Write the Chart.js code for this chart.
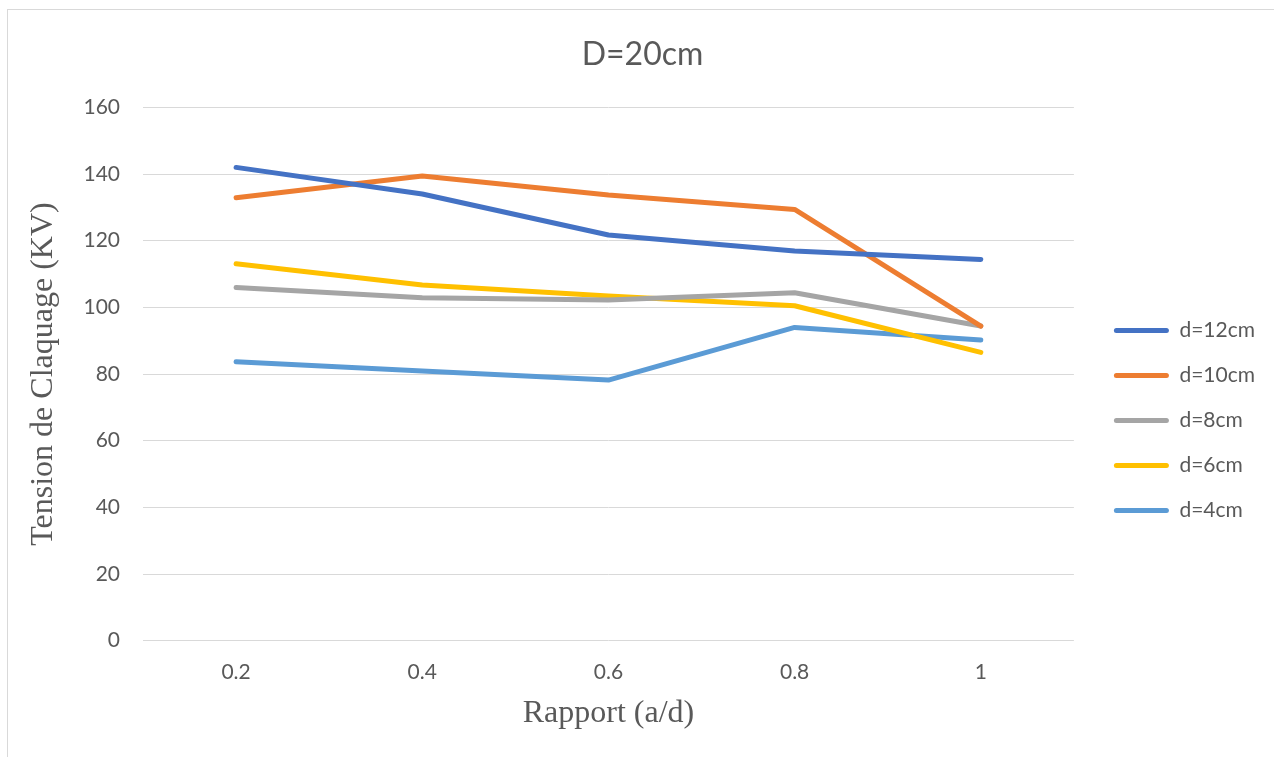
<!DOCTYPE html>
<html>
<head>
<meta charset="utf-8">
<script src="https://cdn.jsdelivr.net/npm/chart.js@4"></script>
<style>
  body { margin: 0; overflow: hidden; background: #fff; }
  #wrap { position: absolute; left: 0; top: 0; width: 1274px; height: 757px; }
  #frame { position: absolute; left: 7px; top: 9px; width: 1300px; height: 800px; border: 1px solid #d9d9d9; pointer-events: none; }
</style>
</head>
<body>
<div id="wrap"><canvas id="myChart" width="1274" height="757"></canvas></div>
<div id="frame"></div>
<script>
var labels = ['0.2', '0.4', '0.6', '0.8', '1'];
var d12 = [142, 134, 121.7, 116.9, 114.4];
var d10 = [132.9, 139.4, 133.7, 129.4, 94.4];
var d8 = [106, 102.9, 102.2, 104.4, 94.4];
var d6 = [113.1, 106.7, 103.4, 100.5, 86.5];
var d4 = [83.7, 80.9, 78.2, 94, 90.2];
var yTicks = [0, 20, 40, 60, 80, 100, 120, 140, 160];

var grey = '#595959';
var sans = 'Lato, "Liberation Sans", sans-serif';
var serif = '"Liberation Serif", "DejaVu Serif", serif';

function serie(label, data, color) {
  return {
    label: label,
    data: data,
    borderColor: color,
    backgroundColor: color,
    borderWidth: 5,
    borderCapStyle: 'round',
    borderJoinStyle: 'round',
    pointRadius: 0,
    tension: 0,
    fill: false
  };
}

// nudge legend and title a bit, like Excel does
var boxShift = {
  id: 'boxShift',
  afterLayout: function (chart) {
    var lg = chart.legend;
    lg.left += 16; lg.right += 16;
    lg.top += 42; lg.bottom += 42;
    var tb = chart.titleBlock;
    tb.left += 18; tb.right += 18;
  }
};

var ctx = document.getElementById('myChart').getContext('2d');
var myChart = new Chart(ctx, {
  type: 'line',
  data: {
    labels: labels,
    datasets: [
      serie('d=12cm', d12, '#4472C4'),
      serie('d=10cm', d10, '#ED7D31'),
      serie('d=8cm', d8, '#A5A5A5'),
      serie('d=6cm', d6, '#FFC000'),
      serie('d=4cm', d4, '#5B9BD5')
    ]
  },
  plugins: [boxShift],
  options: {
    responsive: false,
    animation: false,
    layout: { padding: { left: 0, right: 25, top: 0, bottom: 0 } },
    plugins: {
      title: {
        display: true,
        text: 'D=20cm',
        color: grey,
        font: { family: sans, size: 32, weight: 'normal' },
        padding: { top: 35, bottom: 34 }
      },
      legend: {
        position: 'right',
        labels: {
          color: grey,
          font: { family: sans, size: 21 },
          boxWidth: 55,
          boxHeight: 5,
          padding: 24,
          useBorderRadius: true,
          borderRadius: 2.5,
          generateLabels: function (chart) {
            return Chart.defaults.plugins.legend.labels.generateLabels(chart).map(function (l) {
              l.lineWidth = 0;
              l.fillStyle = l.strokeStyle;
              return l;
            });
          }
        }
      },
      tooltip: { enabled: false }
    },
    scales: {
      x: {
        offset: true,
        afterFit: function (axis) { axis.height = 116.3; },
        grid: { display: false, drawTicks: false },
        border: { display: false },
        ticks: { color: grey, font: { family: sans, size: 21 }, padding: 19 },
        title: {
          display: true,
          text: 'Rapport (a/d)',
          color: grey,
          font: { family: serif, size: 32 },
          padding: { top: 10, bottom: 24 }
        }
      },
      y: {
        min: 0,
        max: 160,
        afterBuildTicks: function (axis) {
          axis.ticks = yTicks.map(function (v) { return { value: v }; });
        },
        afterFit: function (axis) { axis.width = 143; },
        grid: { color: '#d9d9d9', lineWidth: 1, drawTicks: false },
        border: { display: false },
        ticks: { color: grey, font: { family: sans, size: 21 }, padding: 23 },
        title: {
          display: true,
          text: 'Tension de Claquage (KV)',
          color: grey,
          font: { family: serif, size: 32 },
          padding: { top: 24, bottom: 0 }
        }
      }
    }
  }
});
</script>
</body>
</html>
